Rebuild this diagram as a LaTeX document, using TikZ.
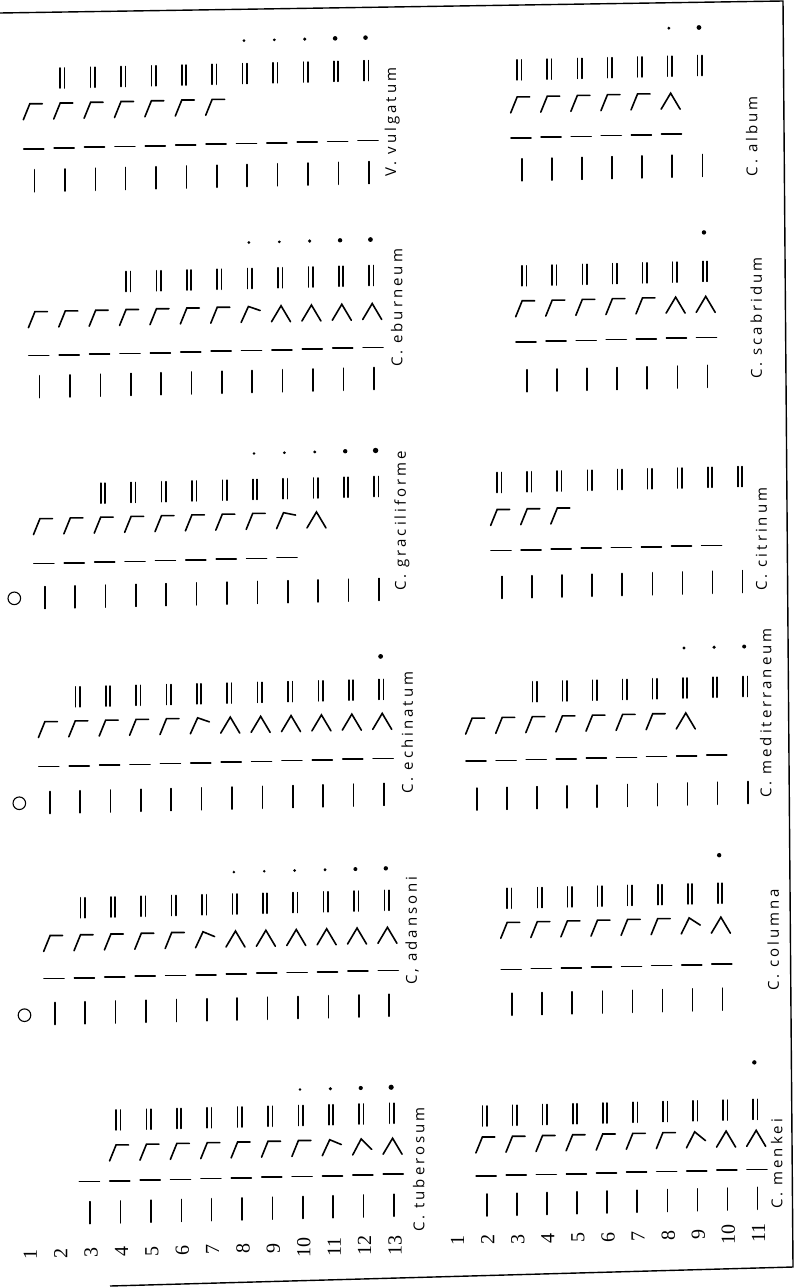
\documentclass[tikz,border=0pt]{standalone}
\usepackage{fontspec}
\setmainfont{Liberation Serif}
\newfontfamily\lblfont[LetterSpace=20]{Open Sans}
\usetikzlibrary{positioning}
\tikzset{
  pics/tk/.style={code={\draw[sym] (0,-11) -- (0,11);}},
  pics/ds/.style={code={\draw[sym] (-10,0) -- (10,0);}},
  pics/dbl/.style={code={\draw[sym] (-2.2,-10) -- (-2.2,10) (2.2,-10) -- (2.2,10);}},
  pics/gm/.style={code={\draw[sym,line join=miter] (-9.5,8) -- ({-3+3*#1},-8) -- (9.5,{-8+16*#1});}},
  pics/ring/.style={code={\draw[line width=1.1pt] (0,0) circle (6.3);}}
}
\newcommand{\lcol}{-14.9+30.4*}
\newcommand{\rcol}{412.9+30.1*}

\begin{document}
\begin{tikzpicture}[x=1pt,y=-1pt,
  sym/.style={line width=1.6pt,line cap=round},
  frame/.style={line width=1.4pt},
  lbl/.style={font=\lblfont\fontsize{15}{15}\selectfont,rotate=90,inner sep=0pt},
  num/.style={font=\fontsize{20}{20}\selectfont,rotate=90,inner sep=0pt}]
\useasboundingbox (0,0) rectangle (794,1287);
\draw[frame] (0,13) -- (783,1) -- (793,1267) -- (110,1286);
\begin{scope}[rotate around={1.4:(397,643)}]
% left half: rows 1-13
\foreach \k in {1,...,13} \node[num] (n\k) at ({\lcol\k},1245) {\k};
% V. vulgatum
\foreach \k in {2,...,13} {\pic at ({\lcol\k},172) {tk}; \pic at ({\lcol\k},140) {ds};}
\foreach \k in {2,...,8} \pic at ({\lcol\k},103) {gm=0};
\foreach \k in {3,...,13} \pic at ({\lcol\k},70) {dbl};
\foreach \k/\r in {9/1.5,10/1.5,11/1.7,12/2.3,13/2.3} \fill ({\lcol\k},37) circle (\r);
\node[lbl] (vulg) at (405,122) {V. vulgatum};
% C. eburneum
\foreach \k in {2,...,13} {\pic at ({\lcol\k},378) {tk}; \pic at ({\lcol\k},347) {ds};}
\foreach \k/\w in {2/0,3/0,4/0,5/0,6/0,7/0,8/0,9/0.25,10/1,11/1,12/1,13/1} \pic at ({\lcol\k},311) {gm=\w};
\foreach \k in {5,...,13} \pic at ({\lcol\k},275) {dbl};
\foreach \k/\r in {9/1.5,10/1.5,11/1.8,12/2.2,13/2.4} \fill ({\lcol\k},239) circle (\r);
\node[lbl] (ebur) at (405,308) {C. eburneum};
% C. graciliforme
\pic at ({\lcol1},589) {ring};
\foreach \k in {2,...,13} \pic at ({\lcol\k},589) {tk};
\foreach \k in {2,...,10} \pic at ({\lcol\k},555) {ds};
\foreach \k/\w in {2/0,3/0,4/0,5/0,6/0,7/0,8/0,9/0,10/0.15,11/1} \pic at ({\lcol\k},518) {gm=\w};
\foreach \k in {4,...,13} \pic at ({\lcol\k},486) {dbl};
\foreach \k/\r in {9/1.4,10/1.5,11/1.6,12/2.2,13/2.7} \fill ({\lcol\k},450) circle (\r);
\node[lbl] (grac) at (405,521) {C. graciliforme};
% C. echinatum
\pic at ({\lcol1},794) {ring};
\foreach \k in {2,...,13} {\pic at ({\lcol\k},794) {tk}; \pic at ({\lcol\k},758) {ds};}
\foreach \k/\w in {2/0,3/0,4/0,5/0,6/0,7/0.25,8/1,9/1,10/1,11/1,12/1,13/1} \pic at ({\lcol\k},721) {gm=\w};
\foreach \k in {3,...,13} \pic at ({\lcol\k},689) {dbl};
\fill ({\lcol13},656) circle (2.4);
\node[lbl] (echi) at (405,733) {C. echinatum};
% C. adansoni
\pic at ({\lcol1},1006) {ring};
\foreach \k in {2,...,13} {\pic at ({\lcol\k},1005) {tk}; \pic at ({\lcol\k},970) {ds};}
\foreach \k/\w in {2/0,3/0,4/0,5/0,6/0,7/0.3,8/1,9/1,10/1,11/1,12/1,13/1} \pic at ({\lcol\k},935) {gm=\w};
\foreach \k in {3,...,13} \pic at ({\lcol\k},900) {dbl};
\foreach \k/\r in {8/1.4,9/1.4,10/1.5,11/1.6,12/2,13/2.2} \fill ({\lcol\k},868) circle (\r);
\node[lbl] (adan) at (405,931) {C, adansoni};
% C. tuberosum
\foreach \k in {3,...,13} {\pic at ({\lcol\k},1205) {tk}; \pic at ({\lcol\k},1174) {ds};}
\foreach \k/\w in {4/0,5/0,6/0,7/0,8/0,9/0,10/0,11/0.3,12/0.65,13/1} \pic at ({\lcol\k},1146) {gm=\w};
\foreach \k in {4,...,13} \pic at ({\lcol\k},1113) {dbl};
\foreach \k/\r in {10/1.4,11/1.7,12/2.1,13/2.6} \fill ({\lcol\k},1087) circle (\r);
\node[lbl] (tube) at (406,1170) {C. tuberosum};
% right half: rows 1-11
\foreach \k in {1,...,11} \node[num] (m\k) at ({\rcol\k},1242) {\k};
% C. album
\foreach \k in {4,...,10} {\pic at ({\rcol\k},173) {tk}; \pic at ({\rcol\k},73) {dbl};}
\foreach \k in {4,...,9} \pic at ({\rcol\k},141) {ds};
\foreach \k/\w in {4/0,5/0,6/0,7/0,8/0,9/1} \pic at ({\rcol\k},108) {gm=\w};
\foreach \k/\r in {9/1.6,10/2.4} \fill ({\rcol\k},35) circle (\r);
\node[lbl] (albu) at (764,145) {C. album};
% C. scabridum
\foreach \k in {4,...,10} {\pic at ({\rcol\k},384) {tk}; \pic at ({\rcol\k},345) {ds}; \pic at ({\rcol\k},279) {dbl};}
\foreach \k/\w in {4/0,5/0,6/0,7/0,8/0,9/1,10/1} \pic at ({\rcol\k},312) {gm=\w};
\fill ({\rcol10},240) circle (2.2);
\node[lbl] (scab) at (764,327) {C. scabridum};
% C. citrinum
\foreach \k in {3,...,11} {\pic at ({\rcol\k},590) {tk}; \pic at ({\rcol\k},485) {dbl};}
\foreach \k in {3,...,10} \pic at ({\rcol\k},553) {ds};
\foreach \k in {3,4,5} \pic at ({\rcol\k},520) {gm=0};
\node[lbl] (citr) at (764,548) {C. citrinum};
% C. mediterraneum
\foreach \k in {2,...,11} \pic at ({\rcol\k},801) {tk};
\foreach \k in {2,...,10} \pic at ({\rcol\k},763) {ds};
\foreach \k/\w in {2/0,3/0,4/0,5/0,6/0,7/0,8/0,9/1} \pic at ({\rcol\k},728) {gm=\w};
\foreach \k in {4,...,11} \pic at ({\rcol\k},695) {dbl};
\foreach \k/\r in {9/1.7,10/1.8,11/2} \fill ({\rcol\k},655) circle (\r);
\node[lbl] (medi) at (764,722) {C. mediterraneum};
% C. columna
\foreach \k in {3,...,10} {\pic at ({\rcol\k},1007) {tk}; \pic at ({\rcol\k},972) {ds}; \pic at ({\rcol\k},901) {dbl};}
\foreach \k/\w in {3/0,4/0,5/0,6/0,7/0,8/0,9/0.45,10/1} \pic at ({\rcol\k},933) {gm=\w};
\fill ({\rcol10},863) circle (2.2);
\node[lbl] (colu) at (766,949) {C. columna};
% C. menkei
\foreach \k in {2,...,11} {\pic at ({\rcol\k},1207) {tk}; \pic at ({\rcol\k},1178) {ds}; \pic at ({\rcol\k},1118) {dbl};}
\foreach \k/\w in {2/0,3/0,4/0,5/0,6/0,7/0,8/0,9/0.55,10/1,11/1} \pic at ({\rcol\k},1147) {gm=\w};
\fill ({\rcol11},1071) circle (2.2);
\node[lbl] (menk) at (764,1173) {C. menkei};
\end{scope}
\end{tikzpicture}
\end{document}
